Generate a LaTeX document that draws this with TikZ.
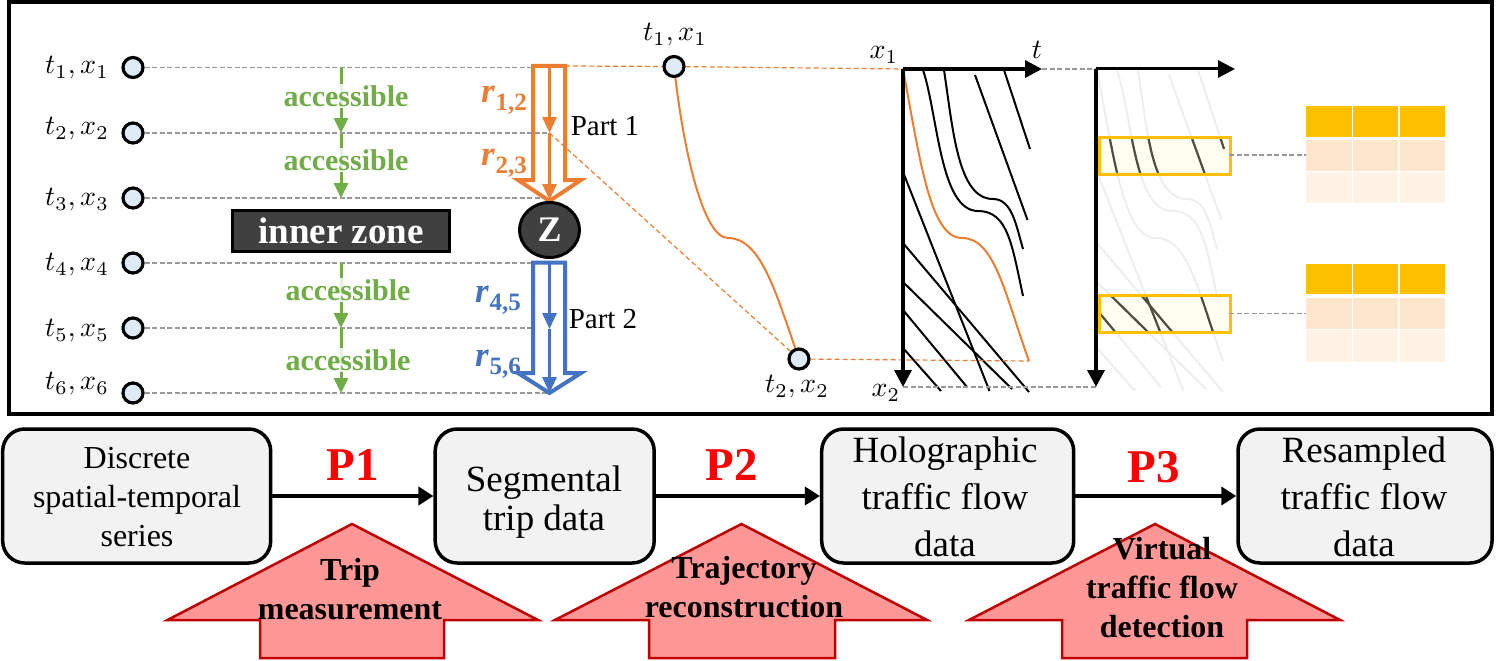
\documentclass[tikz,border=0pt]{standalone}
\usepackage{fontspec}
\setmainfont{Liberation Serif}
\usetikzlibrary{arrows.meta,shapes.geometric}
\definecolor{grn}{HTML}{70AD47}
\definecolor{org}{HTML}{ED7D31}
\definecolor{blu}{HTML}{4472C4}
\definecolor{dark}{HTML}{404040}
\definecolor{gold}{HTML}{FFC000}
\definecolor{pch}{HTML}{FEE6CC}
\definecolor{pal}{HTML}{FFF3E6}
\definecolor{pnk}{HTML}{FF9797}
\definecolor{crim}{HTML}{C00000}
\definecolor{fade}{HTML}{EEEEEE}
\definecolor{ink}{HTML}{4F4C40}
\definecolor{stopblue}{HTML}{DEEBF7}
\definecolor{dashgrey}{HTML}{999999}
\newcommand{\fsz}[2]{\fontsize{#1}{#2}\selectfont}
\newcommand{\mth}[1]{\scalebox{2.8}{$#1$}}
\newcommand{\rlab}[1]{{\fsz{35}{35}\bfseries\itshape r\kern1pt\raisebox{-8pt}{\fsz{25}{25}\upshape #1}}}
\newcommand{\flowlines}[3]{%
  \draw[#3,color=#1] (923,70) .. controls (938,115) and (940,211) .. (978,211) .. controls (1008,211) and (1012,245) .. (1023,296);
  \draw[#3,color=#1] (944,70) .. controls (953,130) and (958,199) .. (993,199) .. controls (1012,199) and (1016,225) .. (1023,249);
  \draw[#3,color=#1] (975,75) -- (1027.5,220);
  \draw[#3,color=#1] (1004,70) -- (1030,149);
  \draw[#3,color=#1] (903,172) -- (989.5,391);
  \draw[#3,color=#1] (903,243) -- (1029,392);
  \draw[#3,color=#1] (903,282) -- (1012,389);
  \draw[#3,color=#1] (903,310) -- (967,387);
  \draw[#3,color=#1] (903,348) -- (941,391);
  \draw[#3,color=#2] (903,69) .. controls (920,160) and (930,238) .. (962,238) .. controls (995,238) and (1005,295) .. (1029,361);
}
\tikzset{
  stopc/.style={circle,draw=black,line width=3.2pt,fill=stopblue,minimum size=20pt,inner sep=0pt},
  greydash/.style={draw=dashgrey,line width=1.5pt,dash pattern=on 5pt off 2.5pt},
  orgdash/.style={draw=org,line width=1.2pt,dash pattern=on 5pt off 3pt},
  grnarrow/.style={draw=grn,line width=3pt,-{Triangle[length=15pt,width=14pt]}},
  inarrow/.style={line width=3pt,-{Triangle[length=16pt,width=14pt]}},
  acc/.style={text=grn,font=\fsz{30}{30}\bfseries,fill=white,fill opacity=.82,text opacity=1,inner sep=1pt},
  hollow/.style={fill=white,line width=4pt,miter limit=10},
  seg/.style={inner sep=0pt},
  lbl/.style={font=\fsz{29}{29},inner sep=0pt},
  axis/.style={line width=3.5pt,-{Triangle[length=17pt,width=17pt]}},
  ybox/.style={draw=gold,line width=3pt},
  cellA/.style={fill=gold},
  cellB/.style={fill=pch},
  cellC/.style={fill=pal},
  proc/.style={draw=black,line width=3.5pt,fill=black!5,rounded corners=22pt,inner sep=0pt},
  proctext/.style={font=\fsz{32}{39},align=center,inner sep=0pt},
  proctextb/.style={font=\fsz{37}{39},align=center,inner sep=0pt},
  flowarrow/.style={line width=4pt,-{Triangle[length=15pt,width=18pt]}},
  plabel/.style={text=red,font=\fsz{47}{47}\bfseries,inner sep=0pt},
  uparrow/.style={fill=pnk,draw=crim,line width=2.5pt},
  uptext/.style={font=\fsz{32}{39}\bfseries,align=center,inner sep=0pt},
}
\begin{document}
\begin{tikzpicture}[x=1pt,y=-1pt]
\useasboundingbox (0,0) rectangle (1496,661);
\draw[line width=4pt] (9,2.5) rectangle (1491.5,414);

% left stops
\foreach \n/\yy/\ly in {1/67.5/68,2/133/129,3/198/200,4/263/265,5/328/331,6/393/384}{
  \node[stopc] (s\n) at (133,\yy) {};
  \node[seg] (sl\n) at (77,\ly) {\mth{t_{\n},x_{\n}}};
  \coordinate (e\n) at (549.5,\yy);
  \draw[greydash] (s\n) -- (e\n);
}
% green arrows
\coordinate (g1) at (341,67.5);
\coordinate (g2) at (341,133);
\coordinate (g3) at (341,198);
\coordinate (g4) at (341,263);
\coordinate (g5) at (341,328);
\coordinate (g6) at (341,393);
\draw[grnarrow] (g1) -- (g2);
\draw[grnarrow] (g2) -- (g3);
\draw[grnarrow] (g4) -- (g5);
\draw[grnarrow] (g5) -- (g6);
\node[acc] (a1) at (346,96) {accessible};
\node[acc] (a2) at (346,160) {accessible};
\node[acc] (a3) at (348,290) {accessible};
\node[acc] (a4) at (348,360) {accessible};

% inner zone
\node[draw=black,fill=dark,line width=3pt,minimum width=217pt,minimum height=41pt,inner sep=0pt,text=white,font=\fsz{37}{37}\bfseries] (iz) at (341,231) {inner zone};

% hollow arrows
\draw[draw=org,hollow] (533,66) -- (565,66) -- (565,180) -- (581,180) -- (549.5,201) -- (518,180) -- (533,180) -- cycle;
\draw[draw=blu,hollow] (533,262.5) -- (565,262.5) -- (565,373) -- (581,373) -- (549.5,393) -- (518,373) -- (533,373) -- cycle;
\coordinate (oa) at (549.5,66);
\coordinate (ob) at (549.5,133);
\coordinate (oc) at (549.5,200);
\coordinate (ba) at (549.5,262.5);
\coordinate (bb) at (549.5,329);
\coordinate (bc) at (549.5,393);
\draw[inarrow,draw=org] (oa) -- (ob);
\draw[inarrow,draw=org] (ob) -- (oc);
\draw[inarrow,draw=blu] (ba) -- (bb);
\draw[inarrow,draw=blu] (bb) -- (bc);
\draw[greydash] (s2) -- (ob);
\node[draw=black,fill=dark,line width=3pt,ellipse,minimum width=60pt,minimum height=55pt,inner sep=0pt,text=white,font=\fsz{36}{36}\bfseries] (z) at (549.5,230) {Z};
\node[lbl,text=org] (r12) at (504,100) {\rlab{1,2}};
\node[lbl,text=org] (r23) at (504,163) {\rlab{2,3}};
\node[lbl,text=blu] (r45) at (498,300) {\rlab{4,5}};
\node[lbl,text=blu] (r56) at (498,364) {\rlab{5,6}};
\node[lbl] (p1) at (605,126) {Part 1};
\node[lbl] (p2) at (603,319) {Part 2};

% trajectory
\coordinate (o1) at (565,66);
\coordinate (xa) at (903,69);
\coordinate (xb) at (1029,361);
\node[stopc] (c1) at (674,66.5) {};
\node[stopc] (c2) at (799,359) {};
\draw[orgdash] (o1) -- (c1);
\draw[orgdash] (c1) -- (xa);
\draw[orgdash] (ob) -- (c2);
\draw[org,line width=2pt] (c1) .. controls (684,150) and (703,238) .. (728,238) .. controls (760,238) and (775,290) .. (c2);
\node[seg] (c1l) at (675,35) {\mth{t_1,x_1}};
\node[seg] (c2l) at (797,387) {\mth{t_2,x_2}};

% first diagram
\flowlines{black}{org}{line width=2pt}
\draw[orgdash] (c2) -- (xb);
\coordinate (tend) at (1042,69);
\coordinate (xend) at (903,387);
\draw[axis] (xa) -- (tend);
\draw[axis] (xa) -- (xend);
\node[seg] (tl) at (1037,50) {\mth{t}};
\node[seg] (x1l) at (884,55) {\mth{x_1}};
\node[seg] (x2l) at (886,393) {\mth{x_2}};

% second diagram
\begin{scope}[xshift=194pt]
  \flowlines{fade}{fade}{line width=2pt}
\end{scope}
\coordinate (ya) at (1096,69);
\coordinate (tend2) at (1235,69);
\coordinate (xend2) at (1096,387);
\draw[greydash] (tend) -- (ya);
\draw[greydash] (xend) -- (xend2);
\foreach \bid/\ytop/\ybot in {b1/136/173,b2/294/332}{
  \fill[yellow!6!white] (1098,\ytop) rectangle (1229,\ybot);
  \begin{scope}
    \clip (1098,\ytop) rectangle (1229,\ybot);
    \begin{scope}[xshift=194pt]
      \flowlines{ink}{ink}{line width=2.2pt}
    \end{scope}
  \end{scope}
  \node[ybox,minimum width=131pt,minimum height=37pt,inner sep=0pt,anchor=north west] (\bid) at (1098,\ytop) {};
}
\draw[axis,line width=3pt] (ya) -- (tend2);
\draw[axis] (ya) -- (xend2);

% tables
\foreach \ra/\rb/\rc/\rd/\re/\rf in {105.5/136.5/140/171/172/203,263.5/294/298/329/330/362}{
  \foreach \xa/\xb in {1306/1351.5,1353/1398,1399.5/1445}{
    \fill[cellA] (\xa,\ra) rectangle (\xb,\rb);
    \fill[cellB] (\xa,\rc) rectangle (\xb,\rd);
    \fill[cellC] (\xa,\re) rectangle (\xb,\rf);
  }
}
\coordinate (t1) at (1306,155);
\coordinate (t2) at (1306,313.5);
\coordinate (tb1) at (1229,155);
\coordinate (tb2) at (1229,313.5);
\draw[greydash] (tb1) -- (t1);
\draw[greydash] (tb2) -- (t2);

% process row
\node[proc,minimum width=268pt,minimum height=134pt] (n1) at (136.7,496) {};
\node[proc,minimum width=219pt,minimum height=134pt] (n2) at (544.7,496) {};
\node[proc,minimum width=252pt,minimum height=134pt] (n3) at (947.7,496) {};
\node[proc,minimum width=254pt,minimum height=134pt] (n4) at (1365,496) {};
\draw[flowarrow] (n1) -- (n2);
\draw[flowarrow] (n2) -- (n3);
\draw[flowarrow] (n3) -- (n4);
\node[proctext] (n1t) at (137,497) {Discrete\\spatial-temporal\\series};
\node[proctextb] (n2t) at (544,502) {Segmental\\trip data};
\node[proctextb,font=\fsz{37}{47}] (n3t) at (945,497) {Holographic\\traffic flow\\data};
\node[proctextb,font=\fsz{37}{47}] (n4t) at (1364,497) {Resampled\\traffic flow\\data};
\node[plabel] (P1) at (353,465) {P1};
\node[plabel] (P2) at (732,465) {P2};
\node[plabel] (P3) at (1154,467) {P3};

% up arrows
\draw[uparrow] (352,524) -- (538,620) -- (444,620) -- (444,658) -- (260,658) -- (260,620) -- (167.5,620) -- cycle;
\draw[uparrow] (741.5,524) -- (927,620) -- (835,620) -- (835,658) -- (649,658) -- (649,620) -- (555,620) -- cycle;
\draw[uparrow] (1155,524) -- (1340,620) -- (1247,620) -- (1247,658) -- (1062,658) -- (1062,620) -- (969,620) -- cycle;
\node[uptext] (u1) at (350,589) {Trip\\measurement};
\node[uptext] (u2) at (744,587) {Trajectory\\reconstruction};
\node[uptext] (u3) at (1162,588) {Virtual\\traffic flow\\detection};
\end{tikzpicture}
\end{document}
